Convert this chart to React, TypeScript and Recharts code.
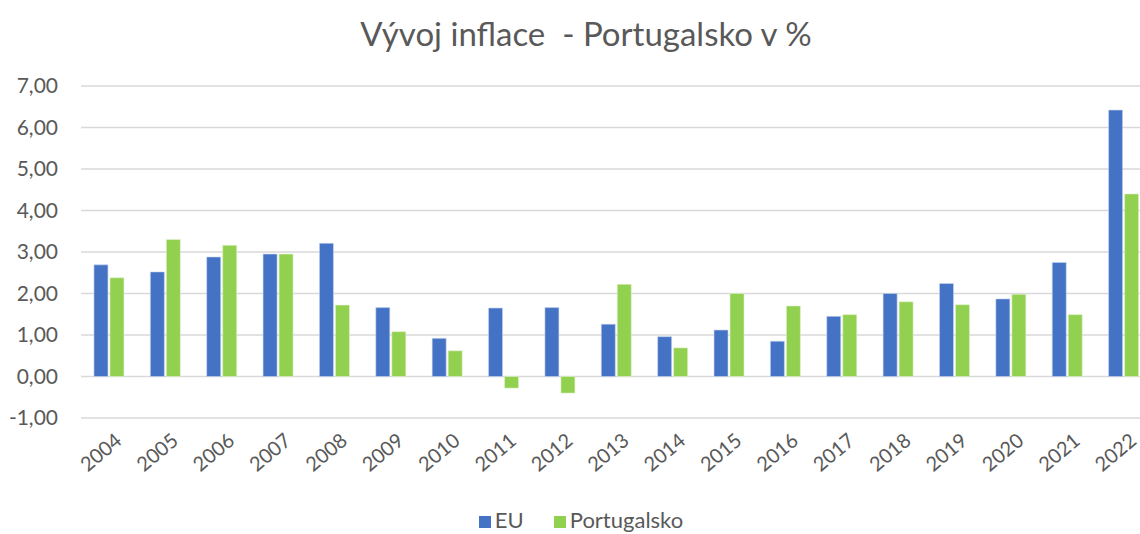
import { BarChart, Bar, XAxis, YAxis, CartesianGrid, Legend } from 'recharts';

const years = ['2004', '2005', '2006', '2007', '2008', '2009', '2010', '2011', '2012', '2013', '2014', '2015', '2016', '2017', '2018', '2019', '2020', '2021', '2022'];
const eu = [2.69, 2.52, 2.88, 2.95, 3.21, 1.66, 0.92, 1.65, 1.66, 1.26, 0.96, 1.12, 0.85, 1.45, 2.0, 2.24, 1.87, 2.75, 6.42];
const portugal = [2.38, 3.3, 3.16, 2.95, 1.72, 1.08, 0.62, -0.28, -0.4, 2.22, 0.69, 2.0, 1.7, 1.49, 1.8, 1.73, 1.98, 1.49, 4.4];
const yTicks = [-1, 0, 1, 2, 3, 4, 5, 6, 7];

const data = years.map((year, i) => ({ year, EU: eu[i], Portugalsko: portugal[i] }));

const FONT = 'Lato, "Open Sans", sans-serif';
const GREY = '#595959';

const fmt = (v: number) => v.toFixed(2).replace('.', ',');

function YearTick(props: any) {
  const { x, y, payload } = props;
  return (
    <g transform={`translate(${x + 5},${y + 6})`}>
      <text transform="rotate(-40)" textAnchor="end" dy={14} fill={GREY} fontSize={20} fontFamily={FONT}>
        {payload.value}
      </text>
    </g>
  );
}

export default function App() {
  return (
    <div style={{ position: 'absolute', left: 0, top: 0, width: 1140, height: 534, overflow: 'hidden', background: '#fff' }}>
      <div style={{ position: 'absolute', top: 13, left: 0, width: 1172, textAlign: 'center', fontFamily: FONT, fontSize: 33, color: GREY }}>
        Vývoj inflace&nbsp; - Portugalsko v %
      </div>
      <BarChart
        width={1152}
        height={534}
        data={data}
        margin={{ top: 86, right: 0, bottom: 0, left: 0 }}
        barCategoryGap="23%"
        barGap={2}
      >
        <CartesianGrid vertical={false} stroke="#d9d9d9" strokeWidth={1.5} />
        <XAxis dataKey="year" axisLine={false} tickLine={false} height={88} interval={0} tick={<YearTick />} />
        <YAxis
          domain={[-1, 7]}
          ticks={yTicks}
          axisLine={false}
          tickLine={false}
          tickSize={0}
          tickMargin={23}
          width={81}
          tickFormatter={fmt}
          tick={{ fill: GREY, fontSize: 21, fontFamily: FONT }}
        />
        <Legend
          verticalAlign="bottom"
          iconType="square"
          iconSize={12}
          height={28}
          wrapperStyle={{ fontFamily: FONT, fontSize: 22, color: GREY, paddingLeft: 20 }}
          formatter={(value: string) => <span style={{ color: GREY, marginRight: 20 }}>{value}</span>}
        />
        <Bar dataKey="EU" fill="#4472C4" stroke="#c9d7ee" strokeWidth={0.6} isAnimationActive={false} />
        <Bar dataKey="Portugalsko" fill="#92D050" stroke="#e2f2d0" strokeWidth={0.6} isAnimationActive={false} />
      </BarChart>
    </div>
  );
}
